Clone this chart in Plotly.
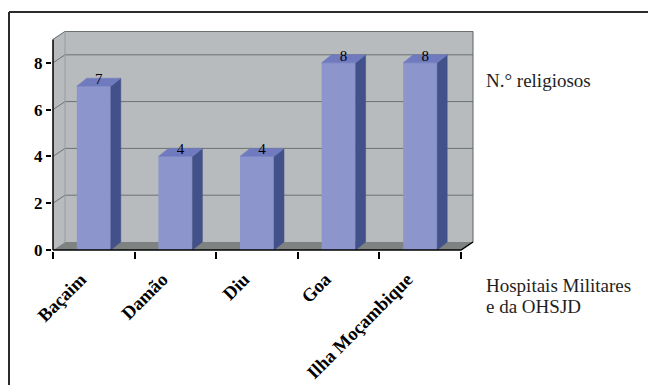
import plotly.graph_objects as go

# Hospitals and number of religious brothers serving in each
categories = ["Baçaim", "Damão", "Diu", "Goa", "Ilha Moçambique"]
religiosos = [7, 4, 4, 8, 8]
y_tickvals = [0, 2, 4, 6, 8]
y_top = 9

series_label = "N.° religiosos"
axis_label_lines = ["Hospitais Militares", "e da OHSJD"]

# ---- geometry of the page and the plotting box ----
W, H = 648, 385
ML, MR, MT, MB = 52, 172, 31, 134
PW, PH = W - ML - MR, H - MT - MB
PXU = 81.6   # pixels per category
PYU = 23.4   # pixels per unit of value
x_lo = -0.5 - 1 / PXU
x_hi = x_lo + PW / PXU
y_lo = -1 / PYU
y_hi = y_lo + PH / PYU

DX, DY = 12 / PXU, 8 / PYU      # depth of the walls / floor
BDX, BDY = 10 / PXU, 8 / PYU    # depth of each column
BW = 0.417                      # column width (fraction of a category)

n = len(categories)
xs = list(range(n))
left, right = -0.5, n - 0.5

WALL = "#b8bbbe"
FLOOR = "#7e8381"
GRID = "#6c7171"
EDGE = "#5f6363"
FRONT = "#8c96cc"
SIDE = "#43518a"
TOP = "#6f7abf"

SERIF = "Liberation Serif, Times New Roman, Tinos, DejaVu Serif, serif"


def px_x(px):
    return (px - ML) / PW


def px_y(py):
    return (H - MB - py) / PH


shapes = []
# side wall on the left
shapes.append(dict(type="path", layer="below", xref="x", yref="y",
                   path=f"M {left},0 L {left},{y_top} L {left+DX},{y_top+DY} L {left+DX},{DY} Z",
                   fillcolor=WALL, line=dict(width=0)))
# back wall
shapes.append(dict(type="rect", layer="below", xref="x", yref="y",
                   x0=left + DX, x1=right + DX, y0=DY, y1=y_top + DY,
                   fillcolor=WALL, line=dict(width=0)))
# floor
shapes.append(dict(type="path", layer="below", xref="x", yref="y",
                   path=f"M {left},0 L {left+DX},{DY} L {right+DX},{DY} L {right},0 Z",
                   fillcolor=FLOOR, line=dict(width=0)))
# gridlines running over side wall and back wall
for v in y_tickvals[1:]:
    shapes.append(dict(type="path", layer="below", xref="x", yref="y",
                       path=f"M {left},{v} L {left+DX},{v+DY} L {right+DX},{v+DY}",
                       line=dict(color=GRID, width=1)))
# outline of the walls
shapes.append(dict(type="path", layer="below", xref="x", yref="y",
                   path=(f"M {left},{y_top} L {left+DX},{y_top+DY} L {right+DX},{y_top+DY} "
                         f"L {right+DX},{DY}"),
                   line=dict(color=EDGE, width=1)))
shapes.append(dict(type="line", layer="below", xref="x", yref="y",
                   x0=left + DX, x1=left + DX, y0=DY, y1=y_top + DY,
                   line=dict(color="#9a9d9f", width=1)))
# axis lines
shapes.append(dict(type="line", layer="above", xref="x", yref="y",
                   x0=left, x1=left, y0=0, y1=y_top, line=dict(color="black", width=1.5)))
shapes.append(dict(type="path", layer="above", xref="x", yref="y",
                   path=f"M {left},0 L {right},0 L {right+DX},{DY}",
                   line=dict(color="black", width=1.5)))
# frame around the figure
shapes.append(dict(type="line", xref="paper", yref="paper",
                   x0=px_x(9), x1=px_x(660), y0=px_y(12), y1=px_y(12),
                   line=dict(color="#2b2b2b", width=2)))
shapes.append(dict(type="line", xref="paper", yref="paper",
                   x0=px_x(9), x1=px_x(9), y0=px_y(12), y1=px_y(400),
                   line=dict(color="#2b2b2b", width=2)))

fig = go.Figure()

# column fronts
fig.add_trace(go.Bar(x=xs, y=religiosos, width=BW,
                     marker=dict(color=FRONT, line=dict(width=0)),
                     hoverinfo="skip", showlegend=False))

# column sides and tops
side_x, side_y, top_x, top_y = [], [], [], []
for x, v in zip(xs, religiosos):
    l, r = x - BW / 2, x + BW / 2
    side_x += [r, r + BDX, r + BDX, r, r, None]
    side_y += [0, BDY, v + BDY, v, 0, None]
    top_x += [l, l + BDX, r + BDX, r, l, None]
    top_y += [v, v + BDY, v + BDY, v, v, None]

fig.add_trace(go.Scatter(x=side_x, y=side_y, mode="lines", fill="toself",
                         fillcolor=SIDE, line=dict(color=SIDE, width=0.5),
                         hoverinfo="skip", showlegend=False))
fig.add_trace(go.Scatter(x=top_x, y=top_y, mode="lines", fill="toself",
                         fillcolor=TOP, line=dict(color=TOP, width=0.5),
                         hoverinfo="skip", showlegend=False))

# value labels on the column tops
fig.add_trace(go.Scatter(x=[x + BDX / 2 for x in xs],
                         y=[v + BDY / 2 + 0.08 for v in religiosos],
                         mode="text", text=[str(v) for v in religiosos],
                         textposition="middle center",
                         textfont=dict(family=SERIF, size=15, color="black"),
                         hoverinfo="skip", showlegend=False))

annotations = [
    dict(xref="paper", yref="paper", x=px_x(484), y=px_y(80),
         xanchor="left", yanchor="middle", showarrow=False, text=series_label,
         font=dict(family=SERIF, size=19, color="#1e1e1e")),
    dict(xref="paper", yref="paper", x=px_x(484), y=px_y(285),
         xanchor="left", yanchor="middle", showarrow=False, text=axis_label_lines[0],
         font=dict(family=SERIF, size=19, color="#1e1e1e")),
    dict(xref="paper", yref="paper", x=px_x(484), y=px_y(306),
         xanchor="left", yanchor="middle", showarrow=False, text=axis_label_lines[1],
         font=dict(family=SERIF, size=19, color="#1e1e1e")),
]

fig.update_layout(
    width=W, height=H,
    margin=dict(l=ML, r=MR, t=MT, b=MB, pad=0, autoexpand=False),
    paper_bgcolor="white", plot_bgcolor="white",
    showlegend=False,
    shapes=shapes, annotations=annotations,
    xaxis=dict(range=[x_lo, x_hi], tickmode="array", tickvals=xs, ticktext=categories,
               tickangle=-45, ticks="", showgrid=False, zeroline=False, showline=False,
               tickfont=dict(family=SERIF, size=18.5, color="black", weight="bold"),
               ticklabelstandoff=13, ticklabelshift=-13, automargin=False,
               minor=dict(tickmode="array", tickvals=[left + i for i in range(n + 1)],
                          ticks="outside", ticklen=7, tickwidth=1.5, tickcolor="black",
                          showgrid=False),
               fixedrange=True),
    yaxis=dict(range=[y_lo, y_hi], tickmode="array", tickvals=y_tickvals,
               ticks="outside", ticklen=5, tickwidth=1.5, tickcolor="black",
               showgrid=False, zeroline=False, showline=False, automargin=False,
               tickfont=dict(family=SERIF, size=17, color="black", weight="bold"),
               fixedrange=True),
)

fig.write_html("out.html", config={"displayModeBar": False})
